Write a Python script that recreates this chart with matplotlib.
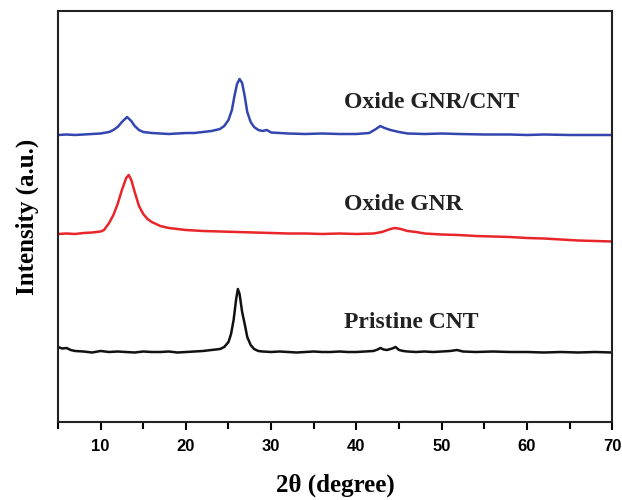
import matplotlib
matplotlib.use('Agg')
import matplotlib.pyplot as plt
from matplotlib.ticker import MultipleLocator

# Pristine CNT
cnt_x = [5, 5.5, 6, 6.5, 7, 8, 9, 10, 11, 12, 13, 14, 15, 16, 17, 18, 19, 20, 21, 22, 23, 24, 24.5,
         25, 25.3, 25.6, 25.9, 26.1, 26.3, 26.6, 26.9, 27.2, 27.6, 28, 28.5, 29, 30, 31, 32, 33, 34, 35,
         36, 37, 38, 39, 40, 41, 42, 42.5, 42.8, 43.2, 43.6, 44.2, 44.6, 45, 45.5, 46, 47, 48, 49, 50,
         51, 51.8, 52.5, 54, 56, 58, 60, 62, 64, 66, 68, 70]
cnt_y = [75, 73.5, 74, 72, 71, 70.5, 69.5, 71, 70, 70.5, 70, 69.5, 70.5, 70, 70, 70.5, 69.5, 70, 70.5, 71, 72, 73, 75,
         80, 88, 102, 123, 133, 128, 110, 98, 85, 77, 73, 71, 70.5, 70, 70.5, 70, 69.5, 70, 70.5,
         70, 70, 70.5, 70, 70, 70.5, 71, 72.5, 74, 72.5, 72, 73.5, 75, 72, 71, 70.5, 70, 70.5, 70, 70.5,
         71, 72, 70.5, 70, 70.5, 70, 70, 69.5, 70, 69.5, 70, 69.5]

# Oxide GNR
gnr_x = [5, 6, 7, 8, 9, 10, 10.4, 11, 11.5, 12, 12.5, 13, 13.3, 13.6, 14, 14.5, 15, 15.5, 16, 17, 18,
         19, 20, 22, 24, 26, 28, 30, 32, 34, 36, 38, 40, 42, 43, 44, 44.5, 45.2, 46, 47, 48, 50, 52,
         54, 56, 58, 60, 62, 64, 66, 68, 70]
gnr_y = [188, 188.5, 188, 189, 189.5, 190.5, 192, 199, 207, 218, 232, 244, 247, 242, 230, 216, 208, 203, 200, 196, 194,
         193, 192, 191, 190.5, 190, 189.5, 189, 188.5, 188.5, 188, 188.5, 188, 188.5, 190, 193, 194, 193, 191, 190, 188.5, 187.5, 187,
         186, 185.5, 185, 184, 183.5, 182.5, 181.5, 181, 180.5]

# Oxide GNR/CNT
mix_x = [5, 6, 7, 8, 9, 10, 11, 11.5, 12, 12.5, 13.1, 13.6, 14, 14.5, 15, 16, 17, 18, 19, 20, 21, 22, 23,
         24, 24.5, 25, 25.4, 25.7, 26.0, 26.3, 26.6, 26.9, 27.2, 27.6, 28, 28.5, 29, 29.5, 30, 32, 34,
         36, 38, 40, 41.5, 42.3, 42.8, 43.3, 44, 45, 46, 48, 50, 52, 55, 58, 60, 62, 65, 68, 70]
mix_y = [287, 287.5, 287, 287.5, 288, 288.5, 290, 292, 295, 300, 305, 301, 296, 292, 290, 289, 288.5, 288, 288.5, 289, 289, 290, 291,
         293, 296, 302, 312, 326, 338, 343, 339, 326, 310, 300, 295, 292, 291, 292, 289.5, 288.5, 288,
         288.5, 288, 288, 289, 293, 296, 294, 292, 290, 288.5, 288, 288.5, 288, 287.5, 287.5, 287, 287.5, 287, 287, 287]

labels = ['Oxide GNR/CNT', 'Oxide GNR', 'Pristine CNT']
label_y = [320, 217, 100]

fig = plt.figure(figsize=(6.22, 5.0), dpi=100)
ax = fig.add_axes([0.0932, 0.156, 0.891, 0.822])

ax.plot(mix_x, mix_y, color='#3346b0', lw=1.8)
ax.plot(gnr_x, gnr_y, color='#e8262a', lw=1.8)
ax.plot(cnt_x, cnt_y, color='#111111', lw=1.8)

for t, y in zip(labels, label_y):
    ax.text(38.5, y, t, fontsize=17, fontweight='bold', family='Liberation Serif',
            va='center', ha='left', color='#222222')

ax.set_xlim(5, 70)
ax.set_ylim(0, 411)
ax.set_yticks([])
ax.xaxis.set_major_locator(MultipleLocator(10))
ax.xaxis.set_minor_locator(MultipleLocator(5))
ax.tick_params(axis='x', which='major', direction='out', length=6, width=1.5, pad=6)
ax.tick_params(axis='x', which='minor', direction='out', length=5, width=1.5)
for lab in ax.get_xticklabels():
    lab.set_fontfamily('Liberation Sans')
    lab.set_fontweight('bold')
    lab.set_fontsize(12)
for s in ax.spines.values():
    s.set_linewidth(1.5)
    s.set_color('#222222')

ax.set_xlabel('2θ (degree)', fontsize=18, fontweight='bold', family='Liberation Serif', labelpad=14)
ax.set_ylabel('Intensity (a.u.)', fontsize=18, fontweight='bold', family='Liberation Serif', labelpad=14)

fig.savefig('out.png', dpi=100)
